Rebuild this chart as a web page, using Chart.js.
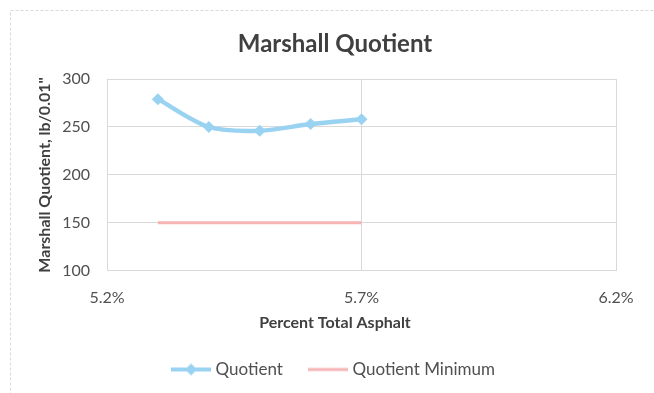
<!DOCTYPE html>
<html>
<head>
<meta charset="utf-8">
<title>Marshall Quotient</title>
<script src="https://cdn.jsdelivr.net/npm/chart.js@4"></script>
<style>
  html, body { margin: 0; padding: 0; background: #fff; }
  #wrap { width: 654px; height: 393px; position: relative; }
</style>
</head>
<body>
<div id="wrap"><canvas id="chartMQ"></canvas></div>
<script>
// asphalt content (%) and measured quotients
const asphalt = [5.3, 5.4, 5.5, 5.6, 5.7];
const quotient = [279, 250, 246, 253, 258];
const quotientMin = [150, 150, 150, 150, 150];
const xTicks = [5.2, 5.7, 6.2];
const yTicks = [100, 150, 200, 250, 300];

const BLUE = '#9ad3f2';
const PINK = '#f5b3b3';
const GRID = '#d9d9d9';
const FONT = 'Lato, "Open Sans", sans-serif';

// legend swatch: short line, optional diamond in the middle
const swatch = (color, width, diamond) => {
  const c = document.createElement('canvas');
  c.width = 40; c.height = 14;
  const g = c.getContext('2d');
  g.strokeStyle = color; g.lineWidth = width;
  g.beginPath(); g.moveTo(0, 7); g.lineTo(40, 7); g.stroke();
  if (diamond) {
    g.fillStyle = color;
    g.beginPath(); g.moveTo(20, 1); g.lineTo(26, 7); g.lineTo(20, 13); g.lineTo(14, 7); g.closePath(); g.fill();
  }
  return c;
};

// light frame round the whole chart (top and left edges show)
const frame = {
  id: 'frame',
  beforeDraw(chart) {
    const ctx = chart.ctx;
    ctx.save();
    ctx.strokeStyle = GRID;
    ctx.lineWidth = 1;
    ctx.setLineDash([3, 2]);
    ctx.strokeRect(10.5, 10.5, 700, 500);
    ctx.restore();
  }
};

new Chart(document.getElementById('chartMQ'), {
  type: 'line',
  data: {
    datasets: [
      {
        label: 'Quotient',
        data: asphalt.map((x, i) => ({ x, y: quotient[i] })),
        borderColor: BLUE, backgroundColor: BLUE,
        borderWidth: 4.5, tension: 0.3,
        pointStyle: 'rectRot', pointRadius: 6, pointBorderWidth: 0,
        pointBackgroundColor: BLUE
      },
      {
        label: 'Quotient Minimum',
        data: asphalt.map((x, i) => ({ x, y: quotientMin[i] })),
        borderColor: PINK, backgroundColor: PINK,
        borderWidth: 3, pointRadius: 0
      }
    ]
  },
  options: {
    responsive: true, maintainAspectRatio: false, animation: false,
    layout: { padding: { top: 10, left: 26, right: 10, bottom: 5 } },
    plugins: {
      title: {
        display: true, text: 'Marshall Quotient', color: '#404040',
        font: { family: FONT, size: 24, weight: 'bold' },
        padding: { top: 19.5, bottom: 20.7 }
      },
      subtitle: {
        display: true, text: 'Percent Total Asphalt', position: 'bottom', weight: 500,
        color: '#404040', font: { family: FONT, size: 16, weight: 'bold' },
        padding: { top: 6, bottom: 0 }
      },
      legend: {
        position: 'bottom',
        labels: {
          usePointStyle: true, pointStyleWidth: 32, padding: 29,
          color: '#505050', font: { family: FONT, size: 17 },
          generateLabels: chart => chart.data.datasets.map((ds, i) => ({
            text: ds.label, datasetIndex: i, hidden: false,
            fontColor: '#505050',
            pointStyle: i === 0 ? swatch(BLUE, 4, true) : swatch(PINK, 3, false)
          }))
        }
      },
      tooltip: { enabled: false }
    },
    scales: {
      x: {
        type: 'linear', min: 5.2, max: 6.2,
        afterBuildTicks: s => { s.ticks = xTicks.map(v => ({ value: v })); },
        afterFit: s => { s.height = 36; },
        grid: { color: GRID, drawTicks: false },
        border: { color: GRID },
        ticks: {
          padding: 17, color: '#505050', font: { family: FONT, size: 16 },
          callback: v => v.toFixed(1) + '%'
        }
      },
      y: {
        min: 100, max: 300,
        afterBuildTicks: s => { s.ticks = yTicks.map(v => ({ value: v })); },
        afterFit: s => { s.width = 81; },
        grid: { color: GRID, drawTicks: false },
        border: { color: GRID },
        ticks: { padding: 17, color: '#505050', font: { family: FONT, size: 16 } },
        title: {
          display: true, text: 'Marshall Quotient, lb/0.01"', color: '#404040',
          font: { family: FONT, size: 16, weight: 'bold' },
          padding: { top: 9.5, bottom: 0 }
        }
      },
      // empty strip that keeps the plot off the right edge
      yRight: {
        position: 'right', min: 100, max: 300,
        afterFit: s => { s.width = 28; },
        grid: { display: false, drawTicks: false },
        border: { display: false },
        ticks: { display: false }
      }
    }
  },
  plugins: [frame]
});
</script>
</body>
</html>
